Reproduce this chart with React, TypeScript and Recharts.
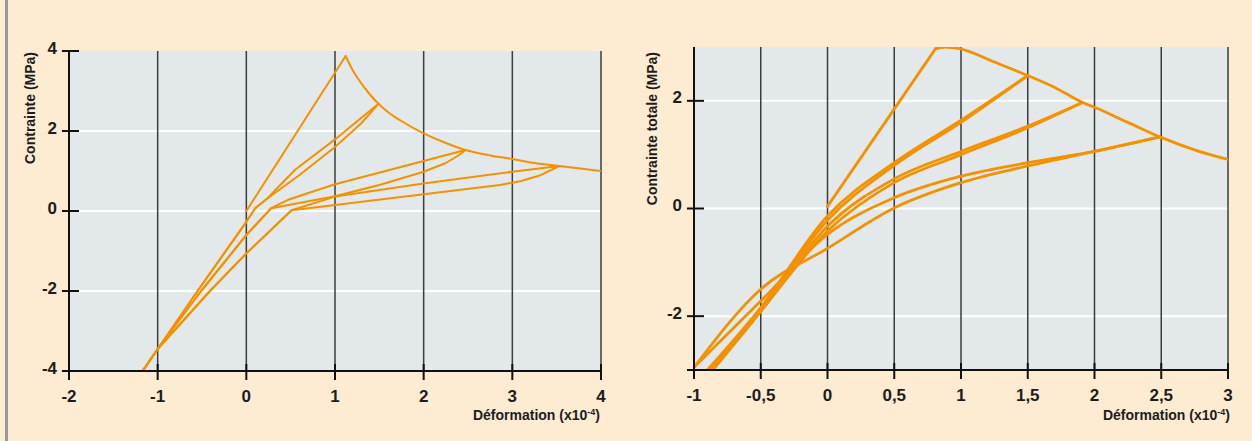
import React from 'react';
import { LineChart, Line, XAxis, YAxis, CartesianGrid, Label } from 'recharts';

// ---------- Left chart data (Contrainte vs Déformation) ----------
const leftXTicks = [-2, -1, 0, 1, 2, 3, 4];
const leftYTicks = [-4, -2, 0, 2, 4];
const leftLoading = [[0, 0], [1.12, 3.875]];
const leftSoftening = [[1.12, 3.875], [1.2, 3.52], [1.27, 3.275], [1.38, 2.95], [1.49, 2.68], [1.6, 2.47], [1.73, 2.275], [2.0, 1.94], [2.25, 1.7], [2.47, 1.525], [2.75, 1.39], [3.0, 1.3], [3.25, 1.2], [3.53, 1.125], [4.0, 1.0]];
const leftCycle1A = [[-1.17, -4], [-1, -3.45], [-0.55, -2], [0, -0.27], [0.1, 0.07], [0.23, 0.3], [0.55, 1.03], [1.0, 1.79], [1.49, 2.68]];
const leftCycle1B = [[-1.17, -4], [-1, -3.45], [-0.55, -2], [0, -0.27], [0.1, 0.07], [0.23, 0.3], [0.6, 0.9], [1.0, 1.6], [1.3, 2.2], [1.49, 2.68]];
const leftCycle2A = [[-1.17, -4], [-1, -3.45], [-0.51, -2], [0, -0.6], [0.28, 0.07], [0.47, 0.28], [1.0, 0.67], [2.0, 1.25], [2.47, 1.525]];
const leftCycle2B = [[-1.17, -4], [-1, -3.45], [-0.51, -2], [0, -0.6], [0.28, 0.07], [1.0, 0.37], [1.5, 0.65], [2.0, 0.98], [2.25, 1.2], [2.4, 1.4], [2.47, 1.525]];
const leftCycle3A = [[-1.17, -4], [-1, -3.45], [-0.41, -2], [0, -1.06], [0.51, 0.02], [1.0, 0.36], [2.0, 0.69], [3.0, 0.98], [3.53, 1.125]];
const leftCycle3B = [[-1.17, -4], [-1, -3.45], [-0.41, -2], [0, -1.06], [0.51, 0.02], [1.0, 0.15], [2.0, 0.42], [2.86, 0.65], [3.1, 0.75], [3.3, 0.88], [3.46, 1.05], [3.53, 1.125]];

// ---------- Right chart data (Contrainte totale vs Déformation) ----------
const rightXTicks = [-1, -0.5, 0, 0.5, 1, 1.5, 2, 2.5, 3];
const rightYTicks = [-3, -2, 0, 2];
const rightLoading = [[0, 0.04], [0.81, 2.97]];
const rightSoftening = [[0.81, 2.97], [0.88, 3.0], [0.99, 2.97], [1.25, 2.72], [1.5, 2.47], [1.71, 2.24], [1.91, 1.97], [2.0, 1.88], [2.25, 1.6], [2.49, 1.33], [2.76, 1.08], [3.0, 0.91]];
const rightCycle1A = [[-0.9, -3], [-0.5, -1.84], [0, -0.14], [0.5, 0.85], [1.0, 1.64], [1.5, 2.47]];
const rightCycle1B = [[-0.88, -3], [-0.5, -1.88], [0, -0.22], [0.5, 0.8], [1.0, 1.6], [1.5, 2.47]];
const rightCycle2A = [[-0.86, -3], [-0.5, -1.91], [0, -0.33], [0.5, 0.55], [1.0, 1.06], [1.5, 1.53], [1.91, 1.97]];
const rightCycle2B = [[-0.86, -3], [-0.5, -1.91], [0, -0.42], [0.5, 0.48], [1.0, 1.0], [1.5, 1.5], [1.91, 1.97]];
const rightCycle3A = [[-1, -2.95], [-0.5, -1.72], [0, -0.48], [0.5, 0.2], [1.0, 0.6], [1.5, 0.85], [2.0, 1.06], [2.49, 1.33]];
const rightCycle3B = [[-1, -2.95], [-0.5, -1.5], [0, -0.74], [0.5, 0.01], [1.0, 0.48], [1.5, 0.79], [2.0, 1.06], [2.49, 1.33]];

const toPoints = (arr: number[][]) => arr.map(([x, y]) => ({ x, y }));

const ORANGE = '#F39200';
const CREAM = '#FDEBD2';
const PLOT_BG = '#E3E8EA';
const GRID_DARK = '#3c3c3c';
const AXIS_COLOR = '#111111';
const TEXT_COLOR = '#1c1c1c';
const FONT = '"Liberation Sans", Arial, Helvetica, sans-serif';

const fmtPlain = (v: number) => String(v);
const fmtComma = (v: number) => (v === -3 ? '' : String(v).replace('.', ','));

const makeXTick = (fmt: (v: number) => string) => (props: any) => {
  const { x, y, payload } = props;
  return (
    <g>
      <line x1={x} x2={x} y1={y - 7} y2={y + 9} stroke={AXIS_COLOR} strokeWidth={2} />
      <text x={x} y={y + 31} textAnchor="middle" fontSize={17} fontWeight="bold" fontFamily={FONT} fill={TEXT_COLOR}>
        {fmt(payload.value)}
      </text>
    </g>
  );
};

const makeYTick = (fmt: (v: number) => string) => (props: any) => {
  const { x, y, payload } = props;
  return (
    <g>
      <line x1={x - 7} x2={x + 10} y1={y} y2={y} stroke={AXIS_COLOR} strokeWidth={2} />
      <text x={x - 12} y={y + 2.5} textAnchor="end" fontSize={17} fontWeight="bold" fontFamily={FONT} fill={TEXT_COLOR}>
        {fmt(payload.value)}
      </text>
    </g>
  );
};

const xTitle = (endX: number) => () => (
  <text x={endX} y={420} textAnchor="end" fontSize={14} fontWeight="bold" fontFamily={FONT} fill={TEXT_COLOR}>
    Déformation (x10
    <tspan dy={-5} fontSize={9}>-4</tspan>
    <tspan dy={5}>)</tspan>
  </text>
);

const yTitle = (baseX: number, topY: number, label: string) => () => (
  <text
    transform={`translate(${baseX},${topY}) rotate(-90)`}
    x={0}
    y={0}
    textAnchor="end"
    fontSize={14}
    fontWeight="bold"
    fontFamily={FONT}
    fill={TEXT_COLOR}
  >
    {label}
  </text>
);

type Series = { key: string; data: number[][]; type: 'linear' | 'monotone' };

const renderSeries = (series: Series[], width: number) =>
  series.map((s) => (
    <Line
      key={s.key}
      data={toPoints(s.data)}
      dataKey="y"
      type={s.type}
      stroke={ORANGE}
      strokeWidth={width}
      dot={false}
      activeDot={false}
      isAnimationActive={false}
      strokeLinejoin="round"
      strokeLinecap="round"
    />
  ));

const leftSeries: Series[] = [
  { key: 'l-load', data: leftLoading, type: 'linear' },
  { key: 'l-soft', data: leftSoftening, type: 'monotone' },
  { key: 'l-c1a', data: leftCycle1A, type: 'linear' },
  { key: 'l-c1b', data: leftCycle1B, type: 'linear' },
  { key: 'l-c2a', data: leftCycle2A, type: 'linear' },
  { key: 'l-c2b', data: leftCycle2B, type: 'linear' },
  { key: 'l-c3a', data: leftCycle3A, type: 'linear' },
  { key: 'l-c3b', data: leftCycle3B, type: 'linear' },
];

const rightSeries: Series[] = [
  { key: 'r-load', data: rightLoading, type: 'linear' },
  { key: 'r-soft', data: rightSoftening, type: 'monotone' },
  { key: 'r-c1a', data: rightCycle1A, type: 'monotone' },
  { key: 'r-c1b', data: rightCycle1B, type: 'monotone' },
  { key: 'r-c2a', data: rightCycle2A, type: 'monotone' },
  { key: 'r-c2b', data: rightCycle2B, type: 'monotone' },
  { key: 'r-c3a', data: rightCycle3A, type: 'monotone' },
  { key: 'r-c3b', data: rightCycle3B, type: 'monotone' },
];

const axisLineStyle = { stroke: AXIS_COLOR, strokeWidth: 2 };
const AXIS_BOX = 50;

export default function App() {
  return (
    <div style={{ position: 'absolute', left: 0, top: 0, width: 1252, height: 441, background: CREAM, overflow: 'hidden' }}>
      <div style={{ position: 'absolute', left: 5, top: 0, width: 2.5, height: 441, background: '#9a9a9a' }} />
      <div style={{ position: 'absolute', left: 0, top: 0 }}>
        <LineChart width={640} height={441} margin={{ top: 51, right: 39, bottom: 70 - AXIS_BOX, left: 69 - AXIS_BOX }}>
          <CartesianGrid fill={PLOT_BG} stroke="#ffffff" strokeWidth={2} vertical={false} horizontalValues={[-2, 0, 2]} />
          <CartesianGrid stroke={GRID_DARK} strokeWidth={1.5} horizontal={false} verticalValues={[-1, 0, 1, 2, 3, 4]} />
          <XAxis
            type="number"
            dataKey="x"
            domain={[-2, 4]}
            ticks={leftXTicks}
            interval={0}
            height={AXIS_BOX}
            tickSize={0}
            tickMargin={0}
            tickLine={false}
            axisLine={axisLineStyle}
            tick={makeXTick(fmtPlain)}
            allowDataOverflow
          >
            <Label content={xTitle(600)} />
          </XAxis>
          <YAxis
            type="number"
            domain={[-4, 4]}
            ticks={leftYTicks}
            interval={0}
            width={AXIS_BOX}
            tickSize={0}
            tickMargin={0}
            tickLine={false}
            axisLine={axisLineStyle}
            tick={makeYTick(fmtPlain)}
            allowDataOverflow
          >
            <Label content={yTitle(35, 52, 'Contrainte (MPa)')} />
          </YAxis>
          {renderSeries(leftSeries, 2)}
        </LineChart>
      </div>
      <div style={{ position: 'absolute', left: 640, top: 0 }}>
        <LineChart width={612} height={441} margin={{ top: 47, right: 24, bottom: 71 - AXIS_BOX, left: 54 - AXIS_BOX }}>
          <CartesianGrid fill={PLOT_BG} stroke="#ffffff" strokeWidth={2} vertical={false} horizontalValues={[-2, 0, 2]} />
          <CartesianGrid stroke={GRID_DARK} strokeWidth={1.5} horizontal={false} verticalValues={[-0.5, 0, 0.5, 1, 1.5, 2, 2.5, 3]} />
          <XAxis
            type="number"
            dataKey="x"
            domain={[-1, 3]}
            ticks={rightXTicks}
            interval={0}
            height={AXIS_BOX}
            tickSize={0}
            tickMargin={0}
            tickLine={false}
            axisLine={axisLineStyle}
            tick={makeXTick(fmtComma)}
            allowDataOverflow
          >
            <Label content={xTitle(590)} />
          </XAxis>
          <YAxis
            type="number"
            domain={[-3, 3]}
            ticks={rightYTicks}
            interval={0}
            width={AXIS_BOX}
            tickSize={0}
            tickMargin={0}
            tickLine={false}
            axisLine={axisLineStyle}
            tick={makeYTick(fmtComma)}
            allowDataOverflow
          >
            <Label content={yTitle(17, 52, 'Contrainte totale (MPa)')} />
          </YAxis>
          {renderSeries(rightSeries, 2.8)}
        </LineChart>
      </div>
    </div>
  );
}
